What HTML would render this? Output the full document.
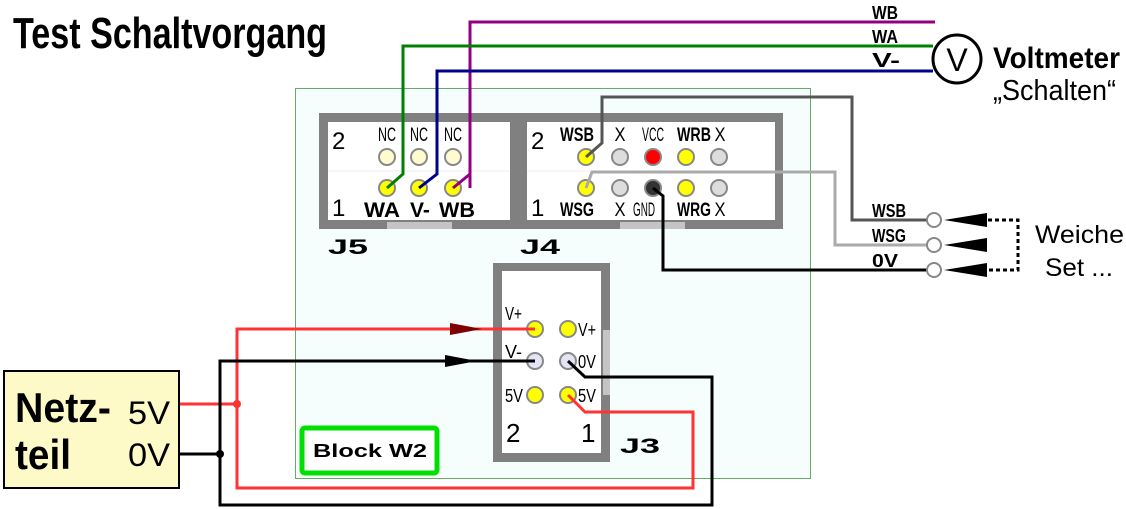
<!DOCTYPE html>
<html><head><meta charset="utf-8"><style>html,body{margin:0;padding:0;background:#fff}svg{display:block}text{font-family:"Liberation Sans",sans-serif}</style></head>
<body>
<svg width="1126" height="509" viewBox="0 0 1126 509" xmlns="http://www.w3.org/2000/svg">
<text x="13" y="48" font-size="44" font-weight="bold" textLength="314" lengthAdjust="spacingAndGlyphs">Test Schaltvorgang</text>
<rect x="295.5" y="88.5" width="515" height="390" fill="#f5fdfd" stroke="#6a6" stroke-width="1"/>
<rect x="319" y="113" width="199" height="116" fill="#808080"/>
<rect x="518" y="113" width="265" height="116" fill="#808080"/>
<rect x="328" y="122" width="182" height="98" fill="#fff"/>
<rect x="527" y="122" width="248" height="98" fill="#fff"/>
<rect x="387" y="222" width="65" height="7" fill="#c4c4c4"/>
<rect x="620" y="222" width="65" height="7" fill="#c4c4c4"/>
<line x1="328" y1="171" x2="510" y2="171" stroke="#eee" stroke-width="1"/>
<line x1="527" y1="171" x2="775" y2="171" stroke="#eee" stroke-width="1"/>
<g stroke="#888" stroke-width="2">
<circle cx="387" cy="157" r="8" fill="#fffad0"/><circle cx="419" cy="157" r="8" fill="#fffad0"/><circle cx="453" cy="157" r="8" fill="#fffad0"/>
<circle cx="387" cy="188" r="8" fill="#ff0"/><circle cx="419" cy="188" r="8" fill="#ff0"/><circle cx="453" cy="188" r="8" fill="#ff0"/>
<circle cx="586" cy="157" r="8" fill="#ff0"/><circle cx="620" cy="157" r="8" fill="#ddd"/><circle cx="653" cy="157" r="8" fill="#f00"/><circle cx="686" cy="157" r="8" fill="#ff0"/><circle cx="719" cy="157" r="8" fill="#ddd"/>
<circle cx="586" cy="188" r="8" fill="#ff0"/><circle cx="620" cy="188" r="8" fill="#ddd"/><circle cx="653" cy="188" r="8" fill="#333"/><circle cx="686" cy="188" r="8" fill="#ff0"/><circle cx="719" cy="188" r="8" fill="#ddd"/>
</g>
<g font-size="24"><text x="332" y="149">2</text><text x="332" y="216">1</text><text x="531" y="149">2</text><text x="531" y="216">1</text></g>
<g font-size="19" text-anchor="middle"><text x="387" y="141" textLength="18" lengthAdjust="spacingAndGlyphs">NC</text><text x="419" y="141" textLength="18" lengthAdjust="spacingAndGlyphs">NC</text><text x="453" y="141" textLength="18" lengthAdjust="spacingAndGlyphs">NC</text>
<text x="620" y="141" textLength="11" lengthAdjust="spacingAndGlyphs">X</text><text x="720" y="141" textLength="11" lengthAdjust="spacingAndGlyphs">X</text><text x="620" y="216" textLength="11" lengthAdjust="spacingAndGlyphs">X</text><text x="720" y="216" textLength="11" lengthAdjust="spacingAndGlyphs">X</text>
<text x="653" y="141" textLength="22" lengthAdjust="spacingAndGlyphs">VCC</text><text x="644" y="216" textLength="22" lengthAdjust="spacingAndGlyphs">GND</text>
<text x="577" y="141" font-weight="bold" textLength="34" lengthAdjust="spacingAndGlyphs">WSB</text><text x="694" y="141" font-weight="bold" textLength="34" lengthAdjust="spacingAndGlyphs">WRB</text>
<text x="577" y="216" font-weight="bold" textLength="34" lengthAdjust="spacingAndGlyphs">WSG</text><text x="694" y="216" font-weight="bold" textLength="34" lengthAdjust="spacingAndGlyphs">WRG</text></g>
<g font-size="21" font-weight="bold"><text x="364" y="217" textLength="36" lengthAdjust="spacingAndGlyphs">WA</text><text x="410" y="217">V-</text><text x="439" y="217" textLength="36" lengthAdjust="spacingAndGlyphs">WB</text></g>
<g font-size="21" font-weight="900"><text x="328" y="254" textLength="40" lengthAdjust="spacingAndGlyphs">J5</text><text x="520" y="254" textLength="40" lengthAdjust="spacingAndGlyphs">J4</text><text x="620" y="453" textLength="40" lengthAdjust="spacingAndGlyphs">J3</text></g>
<rect x="493" y="263" width="117" height="199" fill="#808080"/>
<rect x="502" y="271" width="99" height="182" fill="#fff"/>
<rect x="603" y="330" width="7" height="65" fill="#c4c4c4"/>
<g stroke="#888" stroke-width="2">
<circle cx="535" cy="329" r="8" fill="#ff0"/><circle cx="568" cy="329" r="8" fill="#ff0"/>
<circle cx="535" cy="361" r="8" fill="#e4e4f4"/><circle cx="568" cy="361" r="8" fill="#e4e4f4"/>
<circle cx="535" cy="395" r="8" fill="#ff0"/><circle cx="568" cy="395" r="8" fill="#ff0"/></g>
<g font-size="18"><text x="505" y="320" textLength="17" lengthAdjust="spacingAndGlyphs">V+</text><text x="578" y="336" textLength="18" lengthAdjust="spacingAndGlyphs">V+</text>
<text x="505" y="358" textLength="17" lengthAdjust="spacingAndGlyphs">V-</text><text x="578" y="368" textLength="18" lengthAdjust="spacingAndGlyphs">0V</text>
<text x="505" y="402" textLength="18" lengthAdjust="spacingAndGlyphs">5V</text><text x="578" y="402" textLength="18" lengthAdjust="spacingAndGlyphs">5V</text></g>
<g font-size="26"><text x="506" y="442">2</text><text x="581" y="442">1</text></g>
<rect x="302" y="428" width="135" height="45" rx="3" fill="#fff" stroke="#00e000" stroke-width="5"/>
<text x="313" y="457" font-size="18" font-weight="bold" textLength="114" lengthAdjust="spacingAndGlyphs">Block  W2</text>
<g fill="none" stroke-width="3">
<polyline points="470,188 470,22 935,22" stroke="#900080"/>
<polyline points="453,188 470,174" stroke="#900080"/>
<polyline points="387,188 403,174 403,46 933,46" stroke="#008000"/>
<polyline points="419,188 437,174 437,71 933,71" stroke="#00008b"/>
<polyline points="586,157 602,143 602,97 852,97 852,220 928,220" stroke="#555"/>
<polyline points="586,188 592,172 835,172 835,245 928,245" stroke="#aaa"/>
<polyline points="653,188 663,196 663,270 928,270" stroke="#000"/>
<polyline points="180,404 237,404" stroke="#f33"/>
<polyline points="535,329 237,329 237,488 693,488 693,412 585,412 568,395" stroke="#f33"/>
<polyline points="180,454 220,454" stroke="#000"/>
<polyline points="535,361 220,361 220,505 712,505 712,377 585,377 568,361" stroke="#000"/>
</g>
<circle cx="237" cy="404" r="4" fill="#f33"/><circle cx="220" cy="454" r="4" fill="#000"/>
<polygon points="450,323 482,329 450,335" fill="#800000"/>
<polygon points="445,355 477,361 445,367" fill="#000"/>
<circle cx="957" cy="59" r="24" fill="#fff" stroke="#000" stroke-width="3"/>
<text x="957" y="71" font-size="32" text-anchor="middle">V</text>
<g font-size="18" font-weight="bold"><text x="872" y="19" textLength="26" lengthAdjust="spacingAndGlyphs">WB</text><text x="872" y="43" textLength="26" lengthAdjust="spacingAndGlyphs">WA</text><text x="872" y="67" font-size="20" textLength="28" lengthAdjust="spacingAndGlyphs">V-</text>
<text x="872" y="217" textLength="34" lengthAdjust="spacingAndGlyphs">WSB</text><text x="872" y="242" textLength="34" lengthAdjust="spacingAndGlyphs">WSG</text><text x="872" y="267" textLength="26" lengthAdjust="spacingAndGlyphs">0V</text></g>
<text x="993" y="68" font-size="30" font-weight="bold" textLength="127" lengthAdjust="spacingAndGlyphs">Voltmeter</text>
<text x="993" y="100" font-size="29" textLength="123" lengthAdjust="spacingAndGlyphs">„Schalten“</text>
<g fill="#fff" stroke="#888" stroke-width="2"><circle cx="934" cy="220" r="7"/><circle cx="934" cy="245" r="7"/><circle cx="934" cy="270" r="7"/></g>
<g fill="#000"><polygon points="944,220 987,213 987,227"/><polygon points="944,245 987,238 987,252"/><polygon points="944,270 987,263 987,277"/></g>
<polyline points="988,220 1018,220 1018,270 988,270" fill="none" stroke="#000" stroke-width="3" stroke-dasharray="4,3"/>
<text x="1035" y="243" font-size="25" textLength="89" lengthAdjust="spacingAndGlyphs">Weiche</text>
<text x="1045" y="276" font-size="25" textLength="68" lengthAdjust="spacingAndGlyphs">Set ...</text>
<rect x="4" y="371" width="175" height="117" fill="#fdfac8" stroke="#000" stroke-width="2"/>
<text x="15" y="422" font-size="42" font-weight="bold" textLength="96" lengthAdjust="spacingAndGlyphs">Netz-</text>
<text x="15" y="469" font-size="42" font-weight="bold" textLength="56" lengthAdjust="spacingAndGlyphs">teil</text>
<text x="128" y="424" font-size="32" textLength="42" lengthAdjust="spacingAndGlyphs">5V</text>
<text x="128" y="466" font-size="32" textLength="42" lengthAdjust="spacingAndGlyphs">0V</text>
</svg>
</body></html>
